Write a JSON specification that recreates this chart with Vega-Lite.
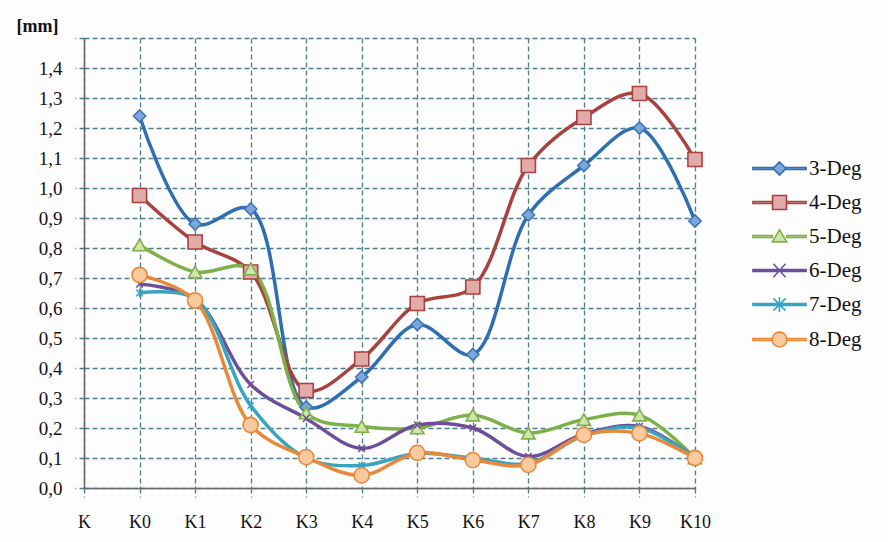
{
  "$schema": "https://vega.github.io/schema/vega-lite/v6.json",
  "autosize": {"type": "none"},
  "width": 611,
  "height": 450,
  "padding": {"left": 84, "top": 38, "right": 193, "bottom": 54},
  "background": "#fdfdfe",
  "config": {
    "view": {"stroke": null},
    "font": "'Liberation Serif', 'DejaVu Serif', serif"
  },
  "data": {
    "values": [
      {"k": "K0", "s": "3-Deg", "v": 1.24}, {"k": "K1", "s": "3-Deg", "v": 0.88}, {"k": "K2", "s": "3-Deg", "v": 0.93},
      {"k": "K3", "s": "3-Deg", "v": 0.27}, {"k": "K4", "s": "3-Deg", "v": 0.37}, {"k": "K5", "s": "3-Deg", "v": 0.545},
      {"k": "K6", "s": "3-Deg", "v": 0.445}, {"k": "K7", "s": "3-Deg", "v": 0.91}, {"k": "K8", "s": "3-Deg", "v": 1.075},
      {"k": "K9", "s": "3-Deg", "v": 1.2}, {"k": "K10", "s": "3-Deg", "v": 0.89},
      {"k": "K0", "s": "4-Deg", "v": 0.975}, {"k": "K1", "s": "4-Deg", "v": 0.82}, {"k": "K2", "s": "4-Deg", "v": 0.72},
      {"k": "K3", "s": "4-Deg", "v": 0.325}, {"k": "K4", "s": "4-Deg", "v": 0.43}, {"k": "K5", "s": "4-Deg", "v": 0.615},
      {"k": "K6", "s": "4-Deg", "v": 0.67}, {"k": "K7", "s": "4-Deg", "v": 1.075}, {"k": "K8", "s": "4-Deg", "v": 1.235},
      {"k": "K9", "s": "4-Deg", "v": 1.315}, {"k": "K10", "s": "4-Deg", "v": 1.095},
      {"k": "K0", "s": "5-Deg", "v": 0.81}, {"k": "K1", "s": "5-Deg", "v": 0.72}, {"k": "K2", "s": "5-Deg", "v": 0.73},
      {"k": "K3", "s": "5-Deg", "v": 0.25}, {"k": "K4", "s": "5-Deg", "v": 0.205}, {"k": "K5", "s": "5-Deg", "v": 0.2},
      {"k": "K6", "s": "5-Deg", "v": 0.243}, {"k": "K7", "s": "5-Deg", "v": 0.183}, {"k": "K8", "s": "5-Deg", "v": 0.228},
      {"k": "K9", "s": "5-Deg", "v": 0.243}, {"k": "K10", "s": "5-Deg", "v": 0.1},
      {"k": "K0", "s": "6-Deg", "v": 0.68}, {"k": "K1", "s": "6-Deg", "v": 0.63}, {"k": "K2", "s": "6-Deg", "v": 0.345},
      {"k": "K3", "s": "6-Deg", "v": 0.232}, {"k": "K4", "s": "6-Deg", "v": 0.132}, {"k": "K5", "s": "6-Deg", "v": 0.21},
      {"k": "K6", "s": "6-Deg", "v": 0.2}, {"k": "K7", "s": "6-Deg", "v": 0.105}, {"k": "K8", "s": "6-Deg", "v": 0.18},
      {"k": "K9", "s": "6-Deg", "v": 0.205}, {"k": "K10", "s": "6-Deg", "v": 0.1},
      {"k": "K0", "s": "7-Deg", "v": 0.65}, {"k": "K1", "s": "7-Deg", "v": 0.63}, {"k": "K2", "s": "7-Deg", "v": 0.275},
      {"k": "K3", "s": "7-Deg", "v": 0.1}, {"k": "K4", "s": "7-Deg", "v": 0.075}, {"k": "K5", "s": "7-Deg", "v": 0.115},
      {"k": "K6", "s": "7-Deg", "v": 0.1}, {"k": "K7", "s": "7-Deg", "v": 0.082}, {"k": "K8", "s": "7-Deg", "v": 0.175},
      {"k": "K9", "s": "7-Deg", "v": 0.2}, {"k": "K10", "s": "7-Deg", "v": 0.1},
      {"k": "K0", "s": "8-Deg", "v": 0.71}, {"k": "K1", "s": "8-Deg", "v": 0.625}, {"k": "K2", "s": "8-Deg", "v": 0.21},
      {"k": "K3", "s": "8-Deg", "v": 0.103}, {"k": "K4", "s": "8-Deg", "v": 0.042}, {"k": "K5", "s": "8-Deg", "v": 0.117},
      {"k": "K6", "s": "8-Deg", "v": 0.093}, {"k": "K7", "s": "8-Deg", "v": 0.077}, {"k": "K8", "s": "8-Deg", "v": 0.177},
      {"k": "K9", "s": "8-Deg", "v": 0.182}, {"k": "K10", "s": "8-Deg", "v": 0.1}
    ]
  },
  "encoding": {
    "x": {
      "field": "k", "type": "nominal", "sort": null,
      "scale": {"type": "point", "padding": 0, "domain": ["K", "K0", "K1", "K2", "K3", "K4", "K5", "K6", "K7", "K8", "K9", "K10"]},
      "axis": {
        "title": null, "labelAngle": 0, "labelFont": "'Liberation Serif', 'DejaVu Serif', serif", "labelFontSize": 18, "labelColor": "#111",
        "labelPadding": 16, "tickSize": 9, "tickColor": "#4d7c8c", "tickDash": [5, 3], "tickWidth": 1.3,
        "domainColor": "#666", "domainWidth": 1.5,
        "grid": true, "gridColor": "#4d7c8c", "gridDash": [5, 3], "gridWidth": 1.3, "gridOpacity": 1
      }
    },
    "y": {
      "field": "v", "type": "quantitative",
      "scale": {"domain": [0, 1.5], "nice": false, "zero": true},
      "axis": {
        "title": "[mm]", "titleAngle": 0, "titleX": -47, "titleY": -12, "titleAlign": "center", "titleBaseline": "middle",
        "titleFont": "'Liberation Serif', 'DejaVu Serif', serif", "titleFontSize": 18, "titleFontWeight": "bold", "titleColor": "#111",
        "values": [0, 0.1, 0.2, 0.3, 0.4, 0.5, 0.6, 0.7, 0.8, 0.9, 1.0, 1.1, 1.2, 1.3, 1.4, 1.5],
        "labelExpr": "datum.value > 1.45 ? '' : replace(format(datum.value, '.1f'), '.', ',')",
        "labelFont": "'Liberation Serif', 'DejaVu Serif', serif", "labelFontSize": 19, "labelColor": "#111", "labelPadding": 13,
        "tickSize": 9, "tickColor": "#4d7c8c", "tickDash": [5, 3], "tickWidth": 1.3,
        "domainColor": "#666", "domainWidth": 1.5,
        "grid": true, "gridColor": "#4d7c8c", "gridDash": [5, 3], "gridWidth": 1.3, "gridOpacity": 1
      }
    }
  },
  "layer": [
    {
      "mark": {"type": "line", "interpolate": "catmull-rom", "strokeWidth": 3.5},
      "encoding": {
        "color": {
          "field": "s", "type": "nominal",
          "scale": {"domain": ["3-Deg", "4-Deg", "5-Deg", "6-Deg", "7-Deg", "8-Deg"],
                    "range": ["#2f6eb0", "#a8423f", "#7eb04a", "#6d4f98", "#38a4c0", "#e8893a"]},
          "legend": {
            "title": null, "orient": "none", "legendX": 672, "legendY": 107, "padding": 0,
            "symbolSize": 2025, "rowPadding": 0, "labelOffset": 6,
            "labelFont": "'Liberation Serif', 'DejaVu Serif', serif", "labelFontSize": 21, "labelColor": "#111", "labelBaseline": "middle",
            "encode": {
              "symbols": {
                "update": {
                  "shape": {"signal": "datum.value === '3-Deg' ? 'M-1.18,-0.045L-0.29,-0.045L-0.29,0.045L-1.18,0.045ZM0.29,-0.045L1.18,-0.045L1.18,0.045L0.29,0.045ZM0,-0.29L0.29,0L0,0.29L-0.29,0Z' : datum.value === '4-Deg' ? 'M-1.18,-0.045L-0.31,-0.045L-0.31,0.045L-1.18,0.045ZM0.31,-0.045L1.18,-0.045L1.18,0.045L0.31,0.045ZM-0.31,-0.31L0.31,-0.31L0.31,0.31L-0.31,0.31Z' : datum.value === '5-Deg' ? 'M-1.18,-0.045L-0.32,-0.045L-0.32,0.045L-1.18,0.045ZM0.32,-0.045L1.18,-0.045L1.18,0.045L0.32,0.045ZM0,-0.3L0.32,0.24L-0.32,0.24Z' : datum.value === '6-Deg' ? 'M-1.18,-0.045L1.18,-0.045L1.18,0.045L-1.18,0.045ZM-0.27,-0.3L0.27,0.3M-0.27,0.3L0.27,-0.3' : datum.value === '7-Deg' ? 'M-1.18,-0.045L1.18,-0.045L1.18,0.045L-1.18,0.045ZM-0.27,-0.27L0.27,0.27M-0.27,0.27L0.27,-0.27M0,-0.33L0,0.33' : 'M-1.18,-0.045L-0.33,-0.045L-0.33,0.045L-1.18,0.045ZM0.33,-0.045L1.18,-0.045L1.18,0.045L0.33,0.045ZM-0.33,0A0.33,0.33 0 1 0 0.33,0A0.33,0.33 0 1 0 -0.33,0Z'"},
                  "fill": {"signal": "datum.value === '3-Deg' ? '#7ea6dc' : datum.value === '4-Deg' ? '#e2aaa8' : datum.value === '5-Deg' ? '#cfe4aa' : datum.value === '6-Deg' ? '#6d4f98' : datum.value === '7-Deg' ? '#38a4c0' : '#f9ca9e'"},
                  "strokeWidth": {"value": 1.6},
                  "opacity": {"value": 1}
                }
              }
            }
          }
        }
      }
    },
    {
      "mark": {"type": "point", "filled": false, "strokeWidth": 1.6, "opacity": 1},
      "encoding": {
        "shape": {
          "field": "s", "type": "nominal", "legend": null,
          "scale": {"domain": ["8-Deg", "7-Deg", "6-Deg", "5-Deg", "4-Deg", "3-Deg"],
                    "range": ["circle", "M-1,-1L1,1M-1,1L1,-1M0,-1.2L0,1.2", "M-1,-1.1L1,1.1M-1,1.1L1,-1.1", "triangle-up", "square", "diamond"]}
        },
        "size": {
          "field": "s", "type": "nominal", "legend": null,
          "scale": {"type": "ordinal", "domain": ["8-Deg", "7-Deg", "6-Deg", "5-Deg", "4-Deg", "3-Deg"],
                    "range": [230, 42, 42, 180, 200, 150]}
        },
        "fill": {
          "field": "s", "type": "nominal", "legend": null,
          "scale": {"domain": ["8-Deg", "7-Deg", "6-Deg", "5-Deg", "4-Deg", "3-Deg"],
                    "range": ["#f9ca9e", "#38a4c0", "#6d4f98", "#cfe4aa", "#e2aaa8", "#7ea6dc"]}
        },
        "stroke": {
          "field": "s", "type": "nominal", "legend": null,
          "scale": {"domain": ["8-Deg", "7-Deg", "6-Deg", "5-Deg", "4-Deg", "3-Deg"],
                    "range": ["#e8893a", "#38a4c0", "#6d4f98", "#7eb04a", "#a8423f", "#3d76b8"]}
        }
      }
    }
  ]
}
